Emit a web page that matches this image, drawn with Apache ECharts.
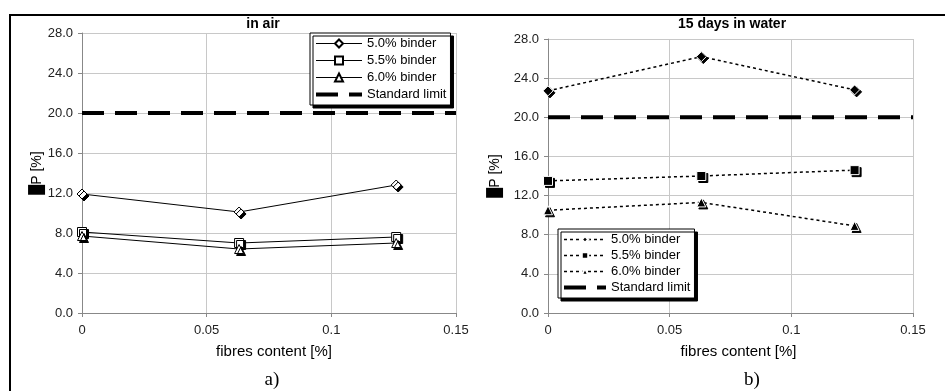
<!DOCTYPE html>
<html>
<head>
<meta charset="utf-8">
<script src="https://cdn.jsdelivr.net/npm/echarts@6/dist/echarts.min.js"></script>
<style>
  html, body { margin: 0; padding: 0; background: #fff; }
  #chart { width: 945px; height: 391px; }
  /* panel frame (left and top edge only, as in the scan) */
  #frame { position: absolute; left: 9px; top: 14px; right: 0; bottom: 0;
           border-left: 2px solid #000; border-top: 2px solid #000; pointer-events: none; }
</style>
</head>
<body>
<div id="chart"></div>
<div id="frame"></div>
<script>
// fibres content [%] of the three mixes
const fibres = [0, 0.063, 0.126];
// standard limit line
const limitX = [0, 0.15];
const limitY = [20, 20];
// a) in air
const air50 = [11.9, 10.1, 12.8];
const air55 = [8.1, 7.0, 7.6];
const air60 = [7.7, 6.4, 7.0];
// b) 15 days in water
const water50 = [22.7, 26.2, 22.8];
const water55 = [13.5, 14.0, 14.6];
const water60 = [10.5, 11.3, 8.9];

const binderNames = ["5.0% binder", "5.5% binder", "6.0% binder"];
const limitName = "Standard limit";
const xMin = 0, xMax = 0.15, xStep = 0.05;
const yMin = 0, yMax = 28, yStep = 4;

const FONT = "'Liberation Sans', Arial, sans-serif";

function pairs(xs, ys) {
  return xs.map((x, i) => [x, ys[i]]);
}

function xAxis(gridIndex, namePad) {
  return {
    type: "value", gridIndex: gridIndex,
    min: xMin, max: xMax, interval: xStep,
    name: "fibres content [%]", nameLocation: "middle", nameGap: 31,
    nameTextStyle: { fontFamily: FONT, fontSize: 15, color: "#000", padding: [0, 0, 0, namePad] },
    axisLine: { show: true, lineStyle: { color: "#888", width: 1 } },
    axisTick: { show: true, length: 4, lineStyle: { color: "#888" } },
    axisLabel: { fontFamily: FONT, fontSize: 13, color: "#222", margin: 11 },
    splitLine: { show: true, lineStyle: { color: "#c8c8c8", width: 1 } }
  };
}

function yAxis(gridIndex, gap) {
  return {
    type: "value", gridIndex: gridIndex,
    min: yMin, max: yMax, interval: yStep,
    name: "\u2588P [%]", nameLocation: "middle", nameGap: gap, nameRotate: 90,
    nameTextStyle: { fontFamily: FONT, fontSize: 14, color: "#000" },
    axisLine: { show: true, lineStyle: { color: "#888", width: 1 } },
    axisTick: { show: true, length: 4, lineStyle: { color: "#888" } },
    axisLabel: { fontFamily: FONT, fontSize: 13, color: "#222", margin: 9,
                 formatter: v => v.toFixed(1) },
    splitLine: { show: true, lineStyle: { color: "#c8c8c8", width: 1 } }
  };
}

const shadow = { shadowColor: "#000", shadowOffsetX: 2, shadowOffsetY: 2, shadowBlur: 0 };
const symbols = ["diamond", "rect", "triangle"];

// left panel: open markers, solid lines
const airSeries = [air50, air55, air60].map((ys, i) => ({
  name: "a|" + binderNames[i], type: "line", xAxisIndex: 0, yAxisIndex: 0,
  data: pairs(fibres, ys), symbol: symbols[i], symbolSize: i === 0 ? 10 : 9,
  lineStyle: { color: "#000", width: 1 },
  itemStyle: Object.assign({ color: "#fff", borderColor: "#000", borderWidth: 1 }, shadow),
  z: 3
}));

// right panel: filled markers, dotted lines
const waterSeries = [water50, water55, water60].map((ys, i) => ({
  name: "b|" + binderNames[i], type: "line", xAxisIndex: 1, yAxisIndex: 1,
  data: pairs(fibres, ys), symbol: symbols[i], symbolSize: i === 0 ? 10 : 9,
  lineStyle: { color: "#000", width: 1.5, type: [3, 3] },
  itemStyle: Object.assign({ color: "#000", borderColor: "#fff", borderWidth: 1 }, shadow),
  z: 3
}));

const limitSeries = ["a", "b"].map((p, i) => ({
  name: p + "|" + limitName, type: "line", xAxisIndex: i, yAxisIndex: i,
  data: pairs(limitX, limitY), symbol: "none",
  lineStyle: { color: "#000", width: 4, type: [22, 11] },
  itemStyle: { color: "rgba(0,0,0,0)" },
  z: 2
}));

function legendData(prefix, lineW) {
  const d = binderNames.map(n => ({ name: prefix + "|" + n, lineStyle: { width: lineW } }));
  d.push({ name: prefix + "|" + limitName, lineStyle: { width: 4 },
           itemStyle: { opacity: 0, color: "rgba(0,0,0,0)", borderWidth: 0 } });
  return d;
}

function legend(prefix, left, top, iw, ih, lineW, gap) {
  return {
    data: legendData(prefix, lineW), orient: "vertical", left: left, top: top,
    itemWidth: iw, itemHeight: ih, itemGap: gap, padding: [4, 4, 4, 4],
    backgroundColor: "#fff", borderColor: "#000", borderWidth: 1, borderRadius: 0,
    shadowColor: "#000", shadowOffsetX: 3, shadowOffsetY: 3, shadowBlur: 0,
    textStyle: { fontFamily: FONT, fontSize: 13, color: "#000" },
    itemStyle: { shadowColor: "rgba(0,0,0,0)" },
    formatter: n => n.split("|")[1],
    selectedMode: false
  };
}

const chart = echarts.init(document.getElementById("chart"), null, { renderer: "canvas" });
chart.setOption({
  animation: false,
  backgroundColor: "#fff",
  grid: [
    { left: 82, top: 33, width: 374, height: 280, outerBoundsMode: "none" },
    { left: 548, top: 39, width: 365, height: 274, outerBoundsMode: "none" }
  ],
  xAxis: [xAxis(0, 10), xAxis(1, 16)],
  yAxis: [yAxis(0, 37), yAxis(1, 46)],
  legend: [
    legend("a", 310, 33, 46, 10, 1, 4),
    legend("b", 558, 229, 42, 8, 1.5, 3)
  ],
  graphic: [
    { type: "text", x: 263, y: 24, style: { text: "in air", align: "center", verticalAlign: "middle",
      font: "bold 14px " + FONT, fill: "#000" } },
    { type: "text", x: 732, y: 24, style: { text: "15 days in water", align: "center", verticalAlign: "middle",
      font: "bold 14px " + FONT, fill: "#000" } },
    { type: "text", x: 272, y: 380, style: { text: "a)", align: "center", verticalAlign: "middle",
      font: "19px 'Liberation Serif', 'Times New Roman', serif", fill: "#000" } },
    { type: "text", x: 752, y: 380, style: { text: "b)", align: "center", verticalAlign: "middle",
      font: "19px 'Liberation Serif', 'Times New Roman', serif", fill: "#000" } }
  ],
  series: limitSeries.concat(airSeries, waterSeries)
});
window.addEventListener("resize", () => { chart.resize(); });
</script>
</body>
</html>
